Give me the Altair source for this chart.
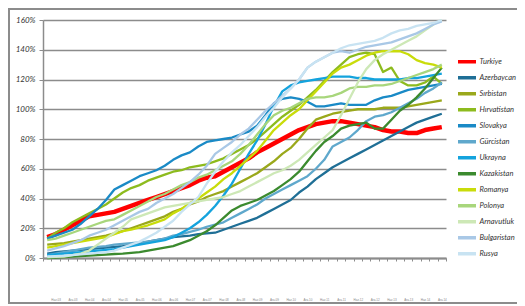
import altair as alt
import pandas as pd

countries = ["Turkiye", "Azerbaycan", "Sırbistan", "Hırvatistan", "Slovakya", "Gürcistan",
             "Ukrayna", "Kazakistan", "Romanya", "Polonya", "Arnavutluk", "Bulgaristan", "Rusya"]
colors = ["#ff0000", "#1f6f96", "#9aa81b", "#8dbb1e", "#1a8ac6", "#5fa8cc",
          "#14a3dd", "#3b8a2e", "#c9dc0a", "#a8d67c", "#cde8b6", "#a9c8e6", "#c8e3f2"]

# period tick labels (every second quarter)
period_labels = [f"{m}.{y:02d}" for y in range(3, 15) for m in ("Haz", "Ara")]

turkiye = [14,16,19,22,25,28,29,30,31,33,35,37,39,41,43,45,47,49,52,54,55,58,61,64,67,71,74,77,80,83,86,88,90,91,92,92,91,90,89,88,86,85,85,84,84,86,87,88]
azerbaycan = [3,4,4.5,5,5.5,6,6.5,7,7.5,8,9,10,11,12,13,14,14.5,15,16,16.5,17,19,21,23,25,27,30,33,36,39,44,48,53,57,61,64,67,70,73,76,79,82,85,88,91,93,95,97]
sirbistan = [9,9.5,10,11,12,13,14,15,16.5,18,20,22,24,26,28,31,33,36,38,41,43,45,48,51,54,57,61,65,70,74,80,87,93,95,97,98,99,100,100,100,101,101,101,102,103,104,105,106]
hirvatistan = [13,17,20,24,27,30,33,36,40,44,47,49,52,54,56,58,59,61,62,63,65,67,70,73,76,80,85,90,95,99,103,108,113,119,125,130,135,137,138,137,125,128,119,116,116,118,122,117]
slovakya = [13,15,17,19,23,28,33,39,46,49,52,55,57,59,62,66,69,71,75,78,79,80,81,83,85,89,96,104,107,108,107,105,102,102,103,104,103,103,103,106,108,109,111,113,114,115,116,117]
gurcistan = [2,3,4,5,6,7,7.5,8,9,9.5,10,10.5,11,12,13,15,16,17.5,19,21,22.5,24,27,30,33,36,40,43,46,49,52,55,60,66,75,78,81,86,92,95,96,98,101,104,107,111,114,118]
ukrayna = [2,2.5,3,3.5,4,4.5,5,5.5,6,7,8,9,10,11,12,14,17,20,24,29,35,42,50,60,70,79,90,102,112,116,118,119,120,121,122,122,122,121,121,120,120,120,120,121,121,122,123,124]
kazakistan = [0,0.3,0.6,1,1.3,1.6,2,2.3,2.7,3,3.5,4,5,6,7,8,10,12,15,18,22,27,32,35,37,39,42,45,49,53,58,65,72,78,82,87,89,90,91,87,87,93,99,103,108,114,121,128]
romanya = [7,8,9,10,11,12,13,14,16,18,19,20.5,22,24,26,30,33,37,40,44,48,53,57,62,67,72,79,86,91,96,100,106,112,118,124,128,130,133,136,138,139,139,139,137,133,131,130,128]
polonya = [12,13,15,17,19,21,23,25,26,29,32,35,38,41,43,46,49,51,54,56,59,62,65,70,76,83,90,96,99,101,104,107,108,108,109,111,114,115,115,116,116,117,119,121,123,125,127,130]
arnavutluk = [0.5,0.7,1,2,3,5,9,13,17,21,26,28,30,32,34,35,36,37,38,39,40,41,43,45,48,51,54,57,59,62,66,71,76,81,86,96,107,118,127,133,137,140,143,146,149,153,157,160]
bulgaristan = [5,6.5,8,10,12,15,17,19,22,25,28,31,33,37,40,43,47,51,56,62,70,74,78,83,87,93,99,104,109,114,120,128,132,135,138,139,138,140,142,143,144,145,147,149,151,154,157,159]
rusya = [1,1.2,1.5,2,2.5,3,3.5,4,5,7,9,11,14,17,21,25,31,36,41,50,58,65,71,76,82,88,95,101,108,114,120,128,132,135,138,141,143,144,145,146,148,151,153,154,156,157,158,160]

series = [turkiye, azerbaycan, sirbistan, hirvatistan, slovakya, gurcistan, ukrayna,
          kazakistan, romanya, polonya, arnavutluk, bulgaristan, rusya]

rows = []
for k, (name, vals) in enumerate(zip(countries, series)):
    for i, v in enumerate(vals):
        rows.append({"country": name, "order": k, "t": i + 0.5, "value": v / 100.0})
df = pd.DataFrame(rows)

W, H = 403, 238
n = len(turkiye)
x_values = [float(b) for b in range(n + 1)] + [k + 0.5 for k in range(1, n, 2)]
labels_js = "[" + ",".join("'" + s + "'" for s in period_labels) + "]"
label_expr = f"datum.value % 1 === 0 ? '' : {labels_js}[floor(datum.value / 2)]"

grey = "#8c8c8c"

lines = alt.Chart(df).mark_line(strokeJoin="round").encode(
    x=alt.X("t:Q", scale=alt.Scale(domain=[0, n], nice=False, zero=False),
            axis=alt.Axis(values=x_values, labelExpr=label_expr, grid=False, title=None,
                          tickSize=3, tickColor=grey, tickWidth=1,
                          tickOpacity={"condition": {"test": "datum.value % 1 === 0", "value": 1}, "value": 0},
                          domainColor=grey, domainWidth=2, labelFontSize=3, labelPadding=37,
                          labelColor="#888", labelAngle=0, labelOverlap=False, labelFlush=False)),
    y=alt.Y("value:Q", scale=alt.Scale(domain=[0, 1.6], nice=False),
            axis=alt.Axis(values=[0, 0.2, 0.4, 0.6, 0.8, 1.0, 1.2, 1.4, 1.6], format=".0%", title=None,
                          labelFont="Lato", labelFontStyle="italic", labelFontSize=8, labelColor="#333",
                          tickSize=4, tickColor=grey, domainColor=grey, domainWidth=1.5,
                          gridColor=grey, gridWidth=1.5, labelPadding=4)),
    color=alt.Color("country:N", scale=alt.Scale(domain=countries, range=colors),
                    legend=alt.Legend(orient="none", legendX=413, legendY=35, title=None,
                                      symbolType="stroke", symbolStrokeWidth=3.5, symbolSize=324,
                                      labelFont="Lato", labelFontStyle="italic", labelFontSize=7.5,
                                      labelColor="#333", labelOffset=1.5, clipHeight=13.4, rowPadding=2)),
    strokeWidth=alt.condition("datum.country === 'Turkiye'", alt.value(4.5), alt.value(2.3)),
    detail="order:O",
)

border = alt.Chart(pd.DataFrame({"a": [0]})).mark_rect(
    fill="white", fillOpacity=0, stroke=grey, strokeWidth=2
).encode(x=alt.value(-34), x2=alt.value(500), y=alt.value(-11), y2=alt.value(283))

chart = alt.layer(border, lines).properties(
    width=W, height=H,
    autosize=alt.AutoSizeParams(type="none"),
    padding={"left": 35, "top": 12, "right": 71, "bottom": 46},
).configure_view(stroke=None)

chart.save("out.html", embed_options={"renderer": "svg", "actions": False})
